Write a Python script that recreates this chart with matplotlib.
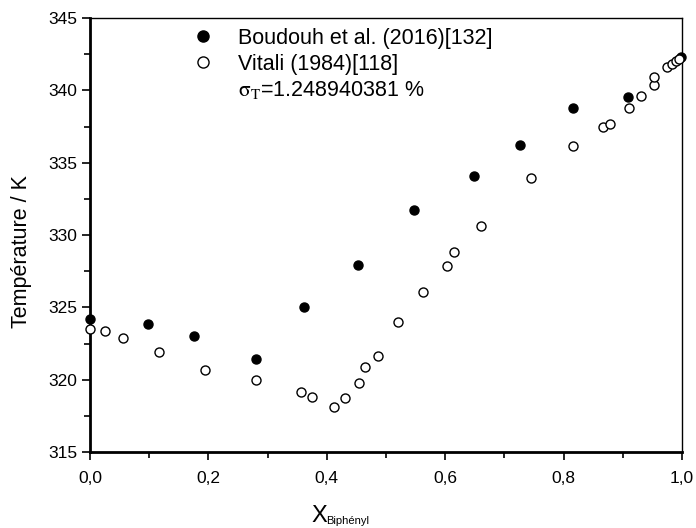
import numpy as np
import matplotlib
matplotlib.use('Agg')
import matplotlib.pyplot as plt
from matplotlib.lines import Line2D
from matplotlib.ticker import MultipleLocator, FuncFormatter

plt.rcParams['font.family'] = ['Liberation Sans', 'DejaVu Sans']
plt.rcParams['mathtext.fontset'] = 'stix'

# Boudouh et al. (2016)
x_boud = [0.0, 0.0975, 0.175, 0.280, 0.362, 0.452, 0.547, 0.648, 0.727, 0.816, 0.908, 0.998]
t_boud = [324.2, 323.85, 323.0, 321.4, 325.0, 327.95, 331.75, 334.05, 336.2, 338.8, 339.55, 342.3]

# Vitali (1984)
x_vit = [0.0, 0.026, 0.056, 0.116, 0.194, 0.280, 0.357, 0.375, 0.412, 0.430, 0.454,
         0.465, 0.486, 0.521, 0.562, 0.603, 0.615, 0.661, 0.745, 0.815, 0.866, 0.878,
         0.911, 0.930, 0.953, 0.953, 0.975, 0.983, 0.990, 0.995]
t_vit = [323.5, 323.38, 322.85, 321.9, 320.67, 319.98, 319.17, 318.78, 318.1, 318.7, 319.77,
         320.88, 321.66, 323.98, 326.06, 327.87, 328.86, 330.59, 333.97, 336.16, 337.47, 337.68,
         338.76, 339.59, 340.35, 340.9, 341.6, 341.85, 342.05, 342.2]

sigma_label = r'$\mathrm{σ}_{\mathrm{T}}$=1.248940381 %'

fig = plt.figure(figsize=(6.96, 5.28), dpi=100)
ax = fig.add_axes([0.1293, 0.1439, 0.8507, 0.8220])

ax.plot(x_boud, t_boud, 'o', color='black', ms=6.5, clip_on=False, zorder=3)
ax.plot(x_vit, t_vit, 'o', mfc='white', mec='black', mew=1.0, ms=6.5, clip_on=False, zorder=3)

ax.set_xlim(0, 1.0)
ax.set_ylim(315, 345)
ax.xaxis.set_major_locator(MultipleLocator(0.2))
ax.xaxis.set_minor_locator(MultipleLocator(0.1))
ax.yaxis.set_major_locator(MultipleLocator(5))
ax.yaxis.set_minor_locator(MultipleLocator(2.5))
ax.xaxis.set_major_formatter(FuncFormatter(lambda v, p: f'{v:.1f}'.replace('.', ',')))

ax.tick_params(which='both', direction='out', labelsize=12.5, width=1.2)
ax.tick_params(which='major', length=6)
ax.tick_params(which='minor', length=4)
ax.tick_params(axis='x', pad=8)
ax.tick_params(axis='y', pad=3)

ax.spines['left'].set_linewidth(2)
ax.spines['bottom'].set_linewidth(2)
ax.spines['top'].set_linewidth(1)
ax.spines['right'].set_linewidth(1)

ax.set_ylabel('Température / K', fontsize=15.5)
ax.yaxis.set_label_coords(-0.098, 0.463)

# x label: big X with a small subscript, as in the original
fig.text(0.448, 0.011, 'X', fontsize=17, va='baseline', ha='left')
fig.text(0.468, 0.008, 'Biphényl', fontsize=8, va='baseline', ha='left')

handles = [
    Line2D([], [], ls='none', marker='o', color='black', ms=8),
    Line2D([], [], ls='none', marker='o', mfc='white', mec='black', ms=8),
    Line2D([], [], ls='none', marker=''),
]
labels = ['Boudouh et al. (2016)[132]', 'Vitali (1984)[118]', sigma_label]
ax.legend(handles, labels, loc='upper left', bbox_to_anchor=(0.155, 0.997), frameon=False,
          fontsize=15.5, handlelength=1.2, handletextpad=1.0, labelspacing=0.22, borderaxespad=0)

fig.savefig('out.png', dpi=100)
